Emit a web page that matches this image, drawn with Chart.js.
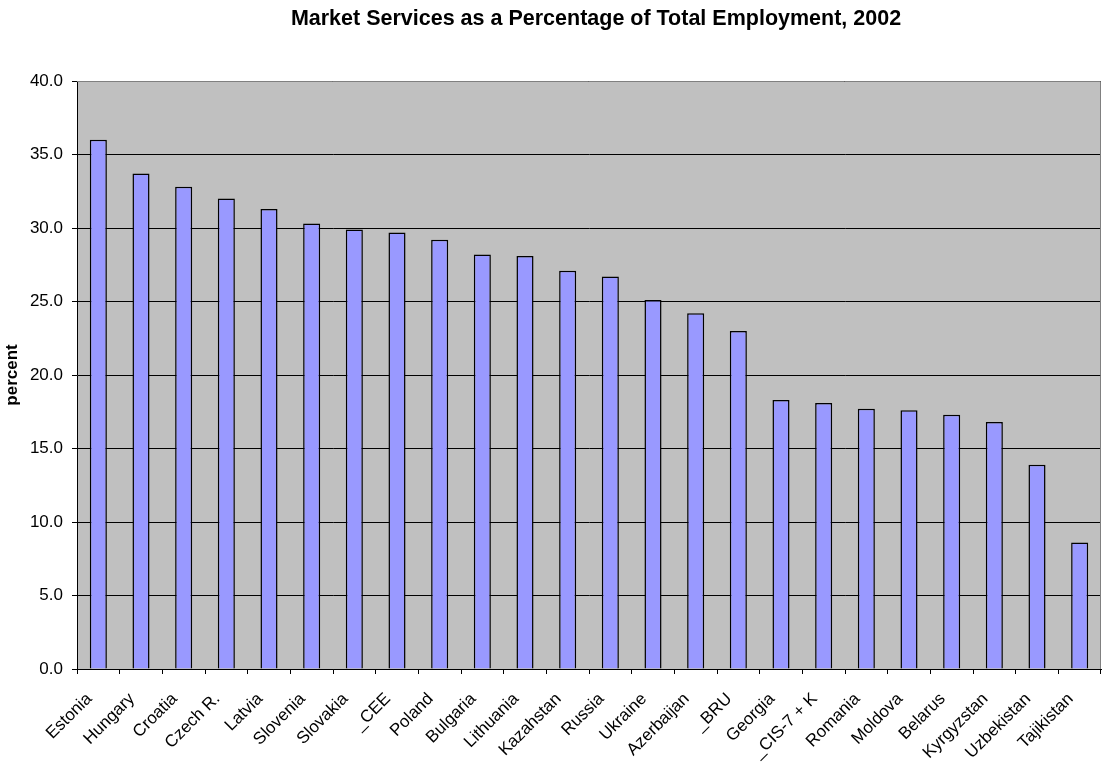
<!DOCTYPE html>
<html>
<head>
<meta charset="utf-8">
<script src="https://cdn.jsdelivr.net/npm/chart.js@4/dist/chart.umd.min.js"></script>
<style>
body { margin: 0; background: #fff; }
</style>
</head>
<body>
<canvas id="chart" width="1102" height="762"></canvas>
<script>
const chartTitle = "Market Services as a Percentage of Total Employment, 2002";
const axisTitle = "percent";

const countries = [
    "Estonia", "Hungary", "Croatia", "Czech R.", "Latvia", "Slovenia",
    "Slovakia", "_CEE", "Poland", "Bulgaria", "Lithuania", "Kazahstan",
    "Russia", "Ukraine", "Azerbaijan", "_BRU", "Georgia", "_CIS-7 + K",
    "Romania", "Moldova", "Belarus", "Kyrgyzstan", "Uzbekistan", "Tajikistan"
];
const marketServices = [
    36.0, 33.7, 32.8, 32.0, 31.3, 30.3,
    29.9, 29.7, 29.2, 28.2, 28.1, 27.1,
    26.7, 25.1, 24.2, 23.0, 18.3, 18.1,
    17.7, 17.6, 17.3, 16.8, 13.9, 8.6
];
const yMin = 0;
const yMax = 40;
const yStep = 5;

const fontFamily = "Arial, 'Liberation Sans', sans-serif";

// grey plot area, grey top/right frame, and the chart title
const plotFrame = {
    id: "plotFrame",
    beforeDraw(chart) {
        const { ctx, chartArea: a } = chart;
        ctx.save();
        ctx.fillStyle = "#C0C0C0";
        ctx.fillRect(a.left, a.top, a.right - a.left, a.bottom - a.top);
        ctx.restore();
    },
    afterDatasetsDraw(chart) {
        const { ctx, chartArea: a } = chart;
        ctx.save();
        ctx.strokeStyle = "#808080";
        ctx.lineWidth = 1;
        ctx.beginPath();
        ctx.moveTo(a.left, a.top + 0.5);
        ctx.lineTo(a.right - 0.5, a.top + 0.5);
        ctx.lineTo(a.right - 0.5, a.bottom);
        ctx.stroke();

        ctx.fillStyle = "#000";
        ctx.font = "bold 21.5px " + fontFamily;
        ctx.textAlign = "center";
        ctx.textBaseline = "alphabetic";
        ctx.fillText(chartTitle, 596, 25);
        ctx.restore();
    }
};

const ctx = document.getElementById("chart").getContext("2d");
new Chart(ctx, {
    type: "bar",
    data: {
        labels: countries,
        datasets: [{
            data: marketServices,
            backgroundColor: "#9999FF",
            borderColor: "#000000",
            borderWidth: 1.5,
            barPercentage: 0.4,
            categoryPercentage: 1.0
        }]
    },
    options: {
        responsive: false,
        animation: false,
        layout: { padding: { top: 81, right: 1, left: 0, bottom: 0 } },
        plugins: {
            legend: { display: false },
            tooltip: { enabled: false }
        },
        scales: {
            y: {
                min: yMin,
                max: yMax,
                afterFit: s => { s.width = 77; },
                ticks: {
                    stepSize: yStep,
                    callback: v => v.toFixed(1),
                    color: "#000",
                    padding: 9,
                    font: { family: fontFamily, size: 17 }
                },
                grid: { color: "#000", lineWidth: 1, tickLength: 5 },
                border: { color: "#000" },
                title: {
                    display: true,
                    text: axisTitle,
                    color: "#000",
                    padding: 0,
                    font: { family: fontFamily, size: 17, weight: "bold", lineHeight: 1.4 }
                }
            },
            x: {
                afterFit: s => {
                    s.height = 93;
                    s.paddingLeft = 0;
                    s.paddingRight = 0;
                },
                ticks: {
                    minRotation: 45,
                    maxRotation: 45,
                    autoSkip: false,
                    color: "#000",
                    padding: 15,
                    labelOffset: -9,
                    font: { family: fontFamily, size: 17 }
                },
                grid: { offset: true, drawOnChartArea: false, color: "#000", tickLength: 5 },
                border: { color: "#000" }
            }
        }
    },
    plugins: [plotFrame]
});
</script>
</body>
</html>
